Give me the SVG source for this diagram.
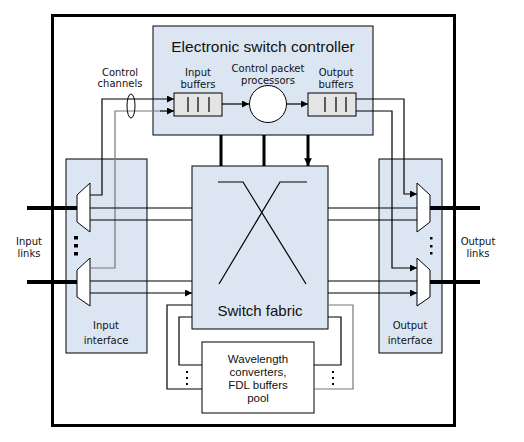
<svg xmlns="http://www.w3.org/2000/svg" width="524" height="442" viewBox="0 0 524 442">
<defs>
<marker id="ah" viewBox="0 0 10 10" refX="10" refY="5" markerWidth="9" markerHeight="7" markerUnits="userSpaceOnUse" orient="auto"><path d="M0,0 L10,5 L0,10 z" fill="#000"/></marker>
<marker id="ahs" viewBox="0 0 10 10" refX="10" refY="5" markerWidth="3" markerHeight="2.6" orient="auto"><path d="M0,0 L10,5 L0,10 z" fill="#000"/></marker>
<style>
.panel{fill:#dce6f2;stroke:#000;stroke-width:1}
.buf{fill:#e4e4e4;stroke:#000;stroke-width:1}
.ln{fill:none;stroke:#000;stroke-width:1.2}
.gr{fill:none;stroke:#777;stroke-width:1.2}
.thick{fill:none;stroke:#000;stroke-width:4}
.t{font-family:"DejaVu Sans",Verdana,sans-serif;font-size:10px;fill:#111;text-anchor:middle}
.ta{font-family:"Liberation Sans",Arial,sans-serif;fill:#111;text-anchor:middle}
.dot{fill:#000}
</style>
</defs>
<rect width="524" height="442" fill="#fff"/>
<rect id="frame" x="52.5" y="15.5" width="402" height="410" fill="none" stroke="#000" stroke-width="3"/>

<g id="input-interface">
<rect class="panel" x="66" y="159" width="81" height="194"/>
<text class="t" x="106" y="329" font-size="12">Input</text>
<text class="t" x="106" y="344" font-size="12">interface</text>
</g>
<g id="output-interface">
<rect class="panel" x="379" y="159" width="63" height="194"/>
<text class="t" x="410" y="329" font-size="12">Output</text>
<text class="t" x="410" y="344" font-size="12">interface</text>
</g>

<g id="controller">
<rect class="panel" x="153" y="26" width="220" height="109"/>
<text class="ta" x="263" y="52" font-size="15.5">Electronic switch controller</text>
</g>
<g id="input-buffers">
<rect class="buf" x="174" y="93" width="48" height="23"/>
<path class="ln" d="M188,97V112M198,97V112M209,97V112"/>
<text class="t" x="198" y="76">Input</text>
<text class="t" x="198" y="88">buffers</text>
</g>
<g id="processors">
<circle cx="268" cy="104" r="18.5" fill="#fff" stroke="#000" stroke-width="1"/>
<text class="t" x="268" y="72">Control packet</text>
<text class="t" x="268" y="84">processors</text>
</g>
<g id="output-buffers">
<rect class="buf" x="308" y="93" width="48" height="23"/>
<path class="ln" d="M325,97V112M336,97V112M346,97V112"/>
<text class="t" x="336" y="76">Output</text>
<text class="t" x="336" y="88">buffers</text>
</g>

<g id="switch-fabric">
<rect class="panel" x="192" y="166" width="136" height="163"/>
<path class="ln" d="M218,182H243L306,284M307,182H280L219,284"/>
<text class="ta" x="260" y="316" font-size="15">Switch fabric</text>
</g>

<g id="fdl-pool">
<rect x="202" y="342" width="112" height="71" fill="#fff" stroke="#000" stroke-width="1"/>
<text class="ta" x="258" y="363" font-size="11.5">Wavelength</text>
<text class="ta" x="258" y="376" font-size="11.5">converters,</text>
<text class="ta" x="258" y="389" font-size="11.5">FDL buffers</text>
<text class="ta" x="258" y="402" font-size="11.5">pool</text>
</g>

<g id="demux-1"><path d="M90,183L77,195V222L90,232Z" fill="#fff" stroke="#000" stroke-width="1"/></g>
<g id="demux-2"><path d="M90,258L77,270V297L90,306Z" fill="#fff" stroke="#000" stroke-width="1"/></g>
<g id="mux-1"><path d="M417,183L430,195V222L417,232Z" fill="#fff" stroke="#000" stroke-width="1"/></g>
<g id="mux-2"><path d="M417,258L430,270V297L417,306Z" fill="#fff" stroke="#000" stroke-width="1"/></g>

<g id="labels">
<text class="t" x="120" y="76" font-size="9.5">Control</text>
<text class="t" x="120" y="87" font-size="9.5">channels</text>
<text class="t" x="29" y="245">Input</text>
<text class="t" x="29" y="257">links</text>
<text class="t" x="478" y="245">Output</text>
<text class="t" x="478" y="257">links</text>
</g>

<g id="connectors">
<path class="ln" d="M222,104H249" marker-end="url(#ah)"/>
<path class="ln" d="M287,104H308" marker-end="url(#ah)"/>
<path class="ln" d="M90,195H102V99H174" marker-end="url(#ah)"/>
<path class="gr" d="M90,268H115V111H160"/>
<path class="ln" d="M160,111H174" marker-end="url(#ah)"/>
<ellipse cx="131" cy="106" rx="4" ry="12" fill="none" stroke="#000" stroke-width="1"/>
<path class="ln" d="M356,99H404V194H417" marker-end="url(#ah)"/>
<path class="ln" d="M356,111H392V268H417" marker-end="url(#ah)"/>
<path fill="none" stroke="#000" stroke-width="3" d="M221,135V166M264,135V166M308,135V166" marker-end="url(#ahs)"/>
<path class="thick" d="M27,208H77M27,282H77"/>
<path class="thick" d="M430,208H480M430,282H480"/>
<path class="ln" d="M90,208H192M90,220H192M90,281H192M90,293H192" marker-end="url(#ah)"/>
<path class="ln" d="M328,208H417M328,220H417M328,281H417M328,293H417" marker-end="url(#ah)"/>
<path class="ln" d="M192,305H167V389H202"/>
<path class="ln" d="M192,317H179V365H202"/>
<path class="gr" d="M328,305H353V389H314"/>
<path class="ln" d="M328,317H341V365H314"/>
</g>

<g id="dots">
<rect class="dot" x="74" y="236" width="4" height="3.5"/>
<rect class="dot" x="74" y="244" width="4" height="3.5"/>
<rect class="dot" x="74" y="252" width="4" height="3.5"/>
<rect class="dot" x="430" y="237" width="2.5" height="2.5"/>
<rect class="dot" x="430" y="245" width="2.5" height="2.5"/>
<rect class="dot" x="430" y="252" width="2.5" height="2.5"/>
<rect class="dot" x="186" y="371" width="2" height="2"/>
<rect class="dot" x="186" y="377" width="2" height="2"/>
<rect class="dot" x="186" y="383" width="2" height="2"/>
<rect class="dot" x="332" y="371" width="2" height="2"/>
<rect class="dot" x="332" y="377" width="2" height="2"/>
<rect class="dot" x="332" y="383" width="2" height="2"/>
</g>
</svg>
